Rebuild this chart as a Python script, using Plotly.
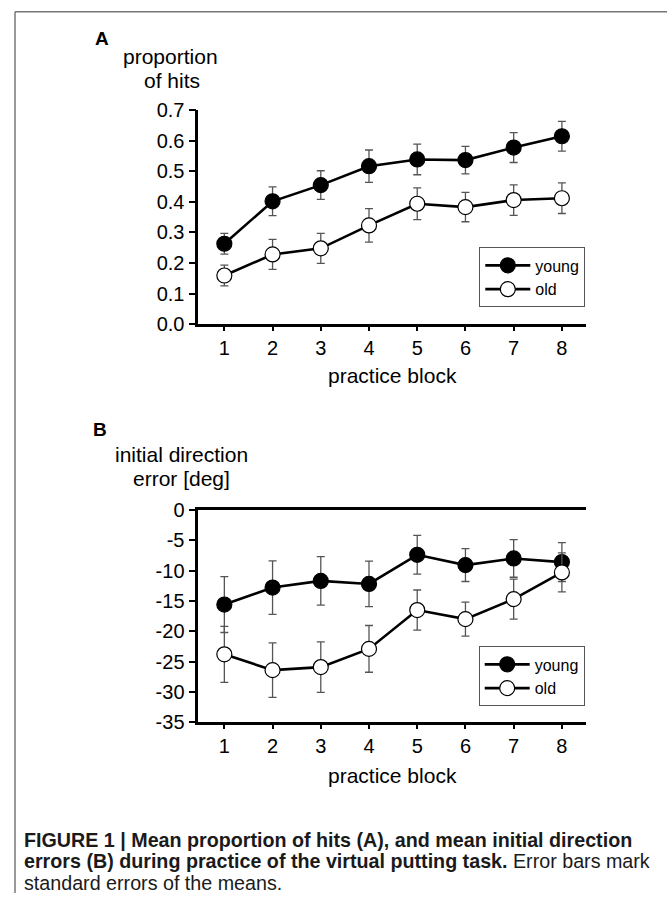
import plotly.graph_objects as go

# ---------------- data ----------------
blocks = [1, 2, 3, 4, 5, 6, 7, 8]
block_ticks = ["1", "2", "3", "4", "5", "6", "7", "8"]

hits_young = [0.263, 0.402, 0.455, 0.517, 0.539, 0.537, 0.578, 0.615]
hits_young_se = [0.034, 0.047, 0.047, 0.053, 0.050, 0.045, 0.049, 0.049]
hits_old = [0.159, 0.228, 0.248, 0.323, 0.394, 0.383, 0.406, 0.412]
hits_old_se = [0.034, 0.049, 0.049, 0.055, 0.052, 0.048, 0.050, 0.050]

dir_young = [-15.6, -12.8, -11.7, -12.2, -7.4, -9.1, -8.0, -8.6]
dir_young_se = [4.6, 4.4, 4.0, 3.75, 3.2, 2.7, 3.1, 3.2]
dir_old = [-23.8, -26.4, -25.9, -22.9, -16.5, -18.0, -14.7, -10.3]
dir_old_se = [4.6, 4.5, 4.15, 3.85, 3.3, 2.8, 3.3, 3.2]

hits_ticks = [0.0, 0.1, 0.2, 0.3, 0.4, 0.5, 0.6, 0.7]
hits_tick_text = ["0.0", "0.1", "0.2", "0.3", "0.4", "0.5", "0.6", "0.7"]
dir_ticks = [0, -5, -10, -15, -20, -25, -30, -35]
dir_tick_text = ["0", "-5", "-10", "-15", "-20", "-25", "-30", "-35"]

# ---------------- layout helpers ----------------
W, H = 667, 904
FONT = "Arial, Liberation Sans, Helvetica, sans-serif"
# the captured page appears vertically squeezed; compensate screen rows -> figure rows
Y_OFF, Y_SCALE = 10.6, 0.9767


def px(x):
    return x / W


def py(y):
    ys = (y - Y_OFF) / Y_SCALE
    return min(1 - 0.8 / H, 1 - ys / H)


def trace(x, y, se, name, filled, xa, ya, legend):
    return go.Scatter(
        x=x, y=y, name=name, mode="lines+markers",
        xaxis=xa, yaxis=ya, legend=legend, showlegend=True,
        line=dict(color="black", width=2.6),
        marker=dict(size=15, color="black" if filled else "white",
                    line=dict(color="black", width=1.2)),
        error_y=dict(type="data", array=se, visible=True,
                     color="#555555", thickness=1.3, width=4),
        cliponaxis=False,
    )


fig = go.Figure()
fig.add_trace(trace(blocks, hits_young, hits_young_se, "young", True, "x", "y", "legend"))
fig.add_trace(trace(blocks, hits_old, hits_old_se, "old", False, "x", "y", "legend"))
fig.add_trace(trace(blocks, dir_young, dir_young_se, "young", True, "x2", "y2", "legend2"))
fig.add_trace(trace(blocks, dir_old, dir_old_se, "old", False, "x2", "y2", "legend2"))

xdom = [px(198.3), px(586)]
axis_common = dict(showline=True, linecolor="black", linewidth=2.6, ticks="outside",
                   tickcolor="black", tickwidth=2.4, showgrid=False, zeroline=False,
                   tickfont=dict(family=FONT, size=20, color="black"))

legend_common = dict(xanchor="left", yanchor="top", bgcolor="white",
                     bordercolor="#555555", borderwidth=1, itemwidth=45,
                     font=dict(family=FONT, size=16, color="black"), tracegroupgap=0)

fig.update_layout(
    width=W, height=H,
    margin=dict(l=0, r=0, t=0, b=0),
    paper_bgcolor="white", plot_bgcolor="white",
    font=dict(family=FONT, color="black"),
    xaxis=dict(domain=xdom, range=[0.46, 8.5], anchor="y",
               tickvals=blocks, ticktext=block_ticks, ticklen=4, **axis_common),
    yaxis=dict(domain=[py(324), py(110)], range=[0, 0.7], anchor="x",
               tickvals=hits_ticks, ticktext=hits_tick_text, ticklen=7, **axis_common),
    xaxis2=dict(domain=xdom, range=[0.46, 8.5], anchor="y2", mirror=True,
                tickvals=blocks, ticktext=block_ticks, ticklen=4, **axis_common),
    yaxis2=dict(domain=[py(722.7), py(510)], range=[-35, 0], anchor="x2",
                tickvals=dir_ticks, ticktext=dir_tick_text, ticklen=7, **axis_common),
    legend=dict(x=px(479.3), y=py(247.3), **legend_common),
    legend2=dict(x=px(478.7), y=py(646.7), **legend_common),
)

annotations = [
    dict(text="<b>A</b>", x=px(102), y=py(38), size=19),
    dict(text="proportion", x=px(170), y=py(56), size=21),
    dict(text="of hits", x=px(172), y=py(80), size=21),
    dict(text="practice block", x=px(392), y=py(375), size=21),
    dict(text="<b>B</b>", x=px(100), y=py(430), size=19),
    dict(text="initial direction", x=px(181.5), y=py(455), size=21),
    dict(text="error [deg]", x=px(181.5), y=py(479), size=21),
    dict(text="practice block", x=px(392), y=py(776), size=21),
]
for a in annotations:
    fig.add_annotation(text=a["text"], x=a["x"], y=a["y"], xref="paper", yref="paper",
                       xanchor="center", yanchor="middle", showarrow=False,
                       font=dict(family=FONT, size=a["size"], color="black"))

captions = [
    ("<b>FIGURE 1 | Mean proportion of hits (A), and mean initial direction</b>", 840),
    ("<b>errors (B) during practice of the virtual putting task.</b> Error bars mark", 862),
    ("standard errors of the means.", 884),
]
for text, yy in captions:
    fig.add_annotation(text=text, x=px(22), y=py(yy), xref="paper", yref="paper",
                       xanchor="left", yanchor="middle", showarrow=False,
                       font=dict(family=FONT, size=19.7, color="#1a1a1a"))

# frame lines
fig.add_shape(type="line", xref="paper", yref="paper", x0=px(15), x1=px(15), y0=py(8), y1=0,
              line=dict(color="#777777", width=1.5))
fig.add_shape(type="line", xref="paper", yref="paper", x0=px(15), x1=1, y0=py(8), y1=py(8),
              line=dict(color="#777777", width=1.5))

fig.write_html("out.html")
